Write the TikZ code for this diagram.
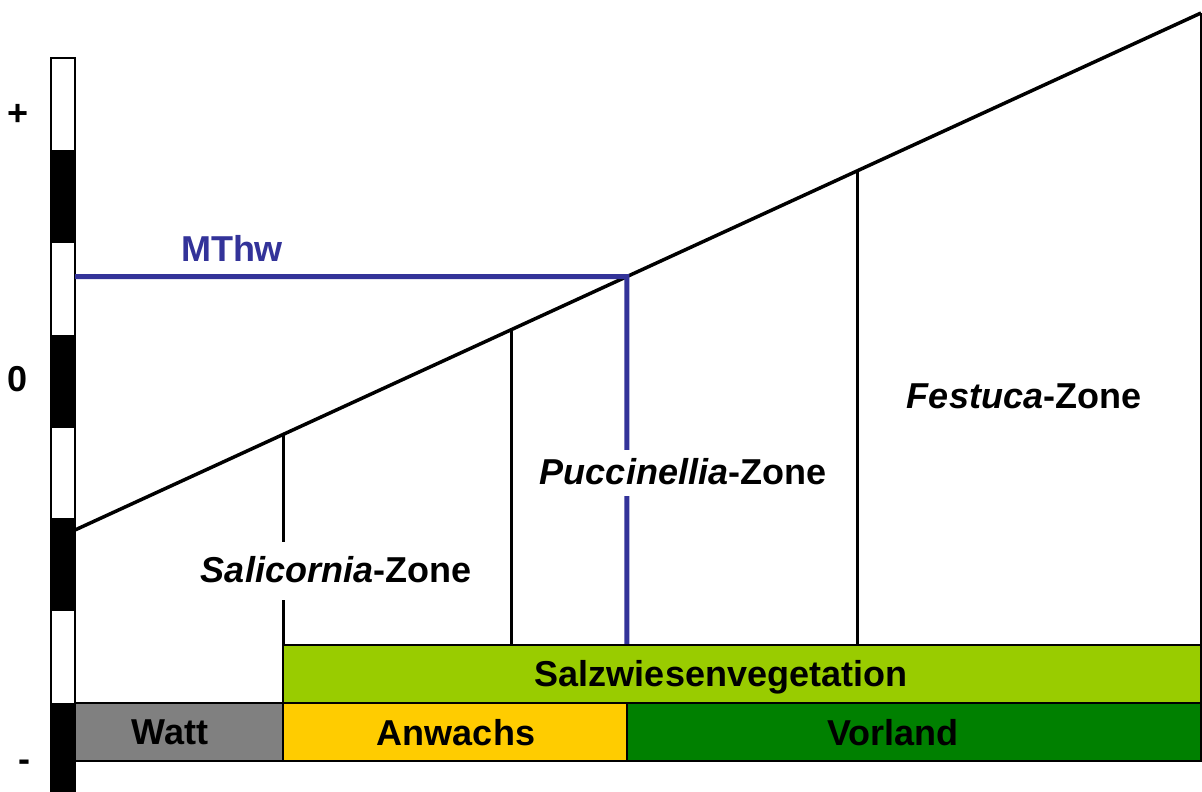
\documentclass[tikz,border=0pt]{standalone}
\usepackage{fontspec}
\setmainfont{Liberation Sans}
\usetikzlibrary{calc}
\definecolor{mthwblue}{HTML}{333399}
\definecolor{vegbar}{HTML}{99CC00}
\definecolor{anwbar}{HTML}{FFCC00}
\definecolor{vorbar}{HTML}{008000}
\definecolor{wattbar}{HTML}{808080}
\tikzset{
  lbl/.style={font=\fontsize{36}{43}\selectfont\bfseries, inner sep=0pt, anchor=base},
  zonelbl/.style={lbl, fill=white, text height=27pt, text depth=5pt, inner xsep=4pt},
  ground/.style={line width=3.5pt, black},
  zoneline/.style={line width=3pt, black},
  bar/.style={draw=black, line width=2.5pt},
  tidal/.style={line width=5pt, mthwblue}
}
\begin{document}
\begin{tikzpicture}[x=1pt, y=-1pt]
\useasboundingbox (0,0) rectangle (1202,792);

% levelling staff
\fill[white] (51,58) rectangle (75,800);
\foreach \t in {150,335,518,703}
  \fill[black] (51,\t) rectangle (75,\t+92.5);
\draw[line width=1.5pt] (51,800) -- (51,58) -- (75,58) -- (75,800);

\node[lbl] (plus) at (18,125) {+};
\node[lbl] (zero) at (18,391) {0};
\node[lbl] (minus) at (24,771) {-};

% marsh surface
\coordinate (s0) at (75,530);
\coordinate (s1) at (1201,13);
\draw[ground] (s0) -- (s1);
\coordinate (b1) at ($(s0)!{208/1126}!(s1)$);
\coordinate (b2) at ($(s0)!{437/1126}!(s1)$);
\coordinate (b3) at ($(s0)!{552/1126}!(s1)$);
\coordinate (b4) at ($(s0)!{782/1126}!(s1)$);

% zone boundaries
\draw[zoneline] (b1) -- (b1 |- 0,645);
\draw[zoneline] (b2) -- (b2 |- 0,645);
\draw[zoneline] (b4) -- (b4 |- 0,645);
\draw[zoneline] (s1) -- (1201,645);

% mean high tide level
\draw[tidal] (75,276.5) -- (b3) -- (b3 |- 0,645);
\node[lbl, text=mthwblue] (mthw) at (232,261) {MThw};

% bars
\draw[bar, fill=vegbar] (283,645) rectangle (1201,703);
\draw[bar, fill=wattbar] (75,703) rectangle (283,761);
\draw[bar, fill=anwbar] (283,703) rectangle (627,761);
\draw[bar, fill=vorbar] (627,703) rectangle (1201,761);
\node[lbl] (salz) at (721,686) {Salzwiesenvegetation};
\node[lbl] (watt) at (170,744) {Watt};
\node[lbl] (anw) at (456,745) {Anwachs};
\node[lbl] (vor) at (893,745) {Vorland};

% zone names
\node[zonelbl, inner ysep=13pt] (sal) at (336,582) {\textit{Salicornia}-Zone};
\node[zonelbl, inner ysep=7pt] (puc) at (683,484) {\textit{Puccinellia}-Zone};
\node[zonelbl, inner ysep=7pt] (fes) at (1024,408) {\textit{Festuca}-Zone};
\end{tikzpicture}
\end{document}
